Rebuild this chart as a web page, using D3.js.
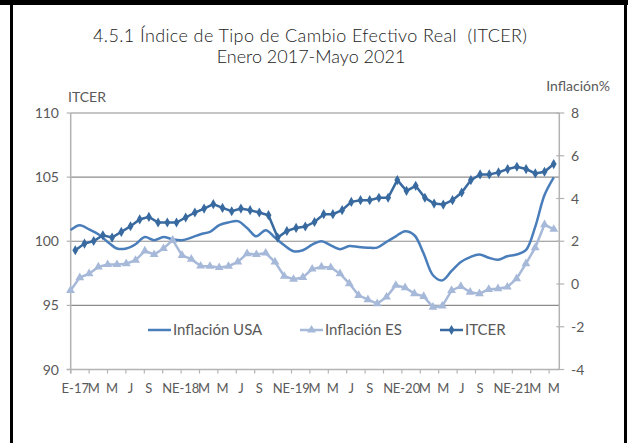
<!DOCTYPE html>
<html>
<meta charset="utf-8">
<style>
  body { margin: 0; background: #fff; }
  text { font-family: Lato, "Open Sans", sans-serif; }
</style>
<body>
<script src="https://cdn.jsdelivr.net/npm/d3@7"></script>
<script>

// months Jan 2017 - May 2021
var categories = [
  "Ene-17","Feb-17","Mar-17","Abr-17","May-17","Jun-17","Jul-17","Ago-17","Sep-17","Oct-17","Nov-17","Dic-17",
  "Ene-18","Feb-18","Mar-18","Abr-18","May-18","Jun-18","Jul-18","Ago-18","Sep-18","Oct-18","Nov-18","Dic-18",
  "Ene-19","Feb-19","Mar-19","Abr-19","May-19","Jun-19","Jul-19","Ago-19","Sep-19","Oct-19","Nov-19","Dic-19",
  "Ene-20","Feb-20","Mar-20","Abr-20","May-20","Jun-20","Jul-20","Ago-20","Sep-20","Oct-20","Nov-20","Dic-20",
  "Ene-21","Feb-21","Mar-21","Abr-21","May-21"
];

// one label every two months
var tickLabels = ["E-17","M","M","J","S","N","E-18","M","M","J","S","N","E-19","M","M","J","S","N",
                  "E-20","M","M","J","S","N","E-21","M","M"];

var itcer = [99.3, 99.82, 100.02, 100.47, 100.29, 100.73, 101.17, 101.7, 101.9, 101.46,
  101.46, 101.46, 101.85, 102.24, 102.55, 102.89, 102.6, 102.34, 102.55, 102.42,
  102.24, 102.03, 100.29, 100.8, 101.04, 101.15, 101.5, 102.11, 102.11, 102.42,
  103.07, 103.2, 103.2, 103.39, 103.39, 104.77, 103.93, 104.32, 103.39, 102.94,
  102.86, 103.2, 103.8, 104.77, 105.21, 105.21, 105.37, 105.63, 105.81, 105.63,
  105.29, 105.42, 106.02];

var inflacionES = [-0.30, 0.30, 0.48, 0.80, 0.91, 0.91, 0.95, 1.11, 1.55, 1.38,
  1.66, 2.05, 1.34, 1.16, 0.84, 0.83, 0.77, 0.83, 1.03, 1.42,
  1.38, 1.45, 1.03, 0.36, 0.22, 0.31, 0.70, 0.80, 0.77, 0.48,
  0.02, -0.53, -0.73, -0.92, -0.61, -0.06, -0.17, -0.45, -0.58, -1.08,
  -1.03, -0.30, -0.11, -0.38, -0.45, -0.25, -0.22, -0.14, 0.25, 0.95,
  1.70, 2.78, 2.56];

var inflacionUSA = [2.52, 2.75, 2.55, 2.33, 1.97, 1.66, 1.66, 1.86, 2.20, 2.05,
  2.20, 2.09, 2.05, 2.17, 2.33, 2.44, 2.75, 2.88, 2.94, 2.62,
  2.23, 2.52, 2.17, 1.81, 1.53, 1.58, 1.84, 2.0, 1.81, 1.63,
  1.78, 1.73, 1.70, 1.70, 1.97, 2.23, 2.47, 2.28, 1.42, 0.41,
  0.17, 0.61, 1.03, 1.26, 1.38, 1.23, 1.14, 1.30, 1.38, 1.58,
  2.67, 4.16, 4.99];

var leftTicks = [90, 95, 100, 105, 110];
var rightTicks = [-4, -2, 0, 2, 4, 6, 8];

var width = 628, height = 443;
var colUSA = "#4a7ebb", colES = "#a7b9d9", colITCER = "#386aa0";
var axisCol = "#b3b3b3", gridCol = "#8c8c8c", textCol = "#595959";

var svg = d3.select("body").append("svg")
    .attr("width", width)
    .attr("height", height);

// frame
svg.append("rect").attr("x", 0).attr("y", 0).attr("width", width).attr("height", 5).attr("fill", "#000");
svg.append("rect").attr("x", 10).attr("y", 0).attr("width", 3).attr("height", height).attr("fill", "#000");
svg.append("rect").attr("x", 624).attr("y", 0).attr("width", 3).attr("height", height).attr("fill", "#000");

// title
svg.append("text").attr("x", 310).attr("y", 42).attr("text-anchor", "middle")
  .attr("font-size", 18).attr("fill", "#222").style("font-weight", 300)
  .style("white-space", "pre")
  .attr("textLength", 434).attr("lengthAdjust", "spacing")
  .text("4.5.1 Índice de Tipo de Cambio Efectivo Real  (ITCER)");
svg.append("text").attr("x", 311).attr("y", 63).attr("text-anchor", "middle")
  .attr("font-size", 18).attr("fill", "#222").style("font-weight", 300)
  .text("Enero 2017-Mayo 2021");

var x0 = 70.7, x1 = 558.3, yTop = 113, yBot = 369.5;

var xBand = d3.scaleBand().domain(categories).range([x0, x1]).padding(0);
var xPoint = d3.scalePoint().domain(categories).range([70.5, 553.8]);
var yL = d3.scaleLinear().domain([90, 110]).range([yBot, yTop]);
var yR = d3.scaleLinear().domain([-4, 8]).range([yBot, yTop]);

// gridlines
svg.append("g").selectAll("line").data(leftTicks.slice(1)).enter().append("line")
  .attr("x1", x0).attr("x2", x1 + 1)
  .attr("y1", function (d) { return yL(d); }).attr("y2", function (d) { return yL(d); })
  .attr("stroke", gridCol).attr("stroke-width", 1.2);

// left axis
var gL = svg.append("g");
gL.append("line").attr("x1", x0).attr("x2", x0).attr("y1", yTop).attr("y2", yBot + 4)
  .attr("stroke", axisCol).attr("stroke-width", 1.5);
gL.selectAll(".t").data(leftTicks).enter().append("line")
  .attr("x1", x0 - 4).attr("x2", x0)
  .attr("y1", function (d) { return yL(d); }).attr("y2", function (d) { return yL(d); })
  .attr("stroke", axisCol).attr("stroke-width", 1.2);
gL.selectAll("text").data(leftTicks).enter().append("text")
  .attr("x", 59).attr("y", function (d) { return yL(d) + 5; })
  .attr("text-anchor", "end").attr("font-size", 14).attr("fill", textCol)
  .text(function (d) { return d; });

// right axis
var gR = svg.append("g");
gR.append("line").attr("x1", x1 + 1).attr("x2", x1 + 1).attr("y1", yTop).attr("y2", yBot)
  .attr("stroke", axisCol).attr("stroke-width", 1.5);
gR.selectAll(".t").data(rightTicks).enter().append("line")
  .attr("x1", x1 - 2).attr("x2", x1 + 6)
  .attr("y1", function (d) { return yR(d); }).attr("y2", function (d) { return yR(d); })
  .attr("stroke", axisCol).attr("stroke-width", 1.2);
gR.selectAll("text").data(rightTicks).enter().append("text")
  .attr("x", 571).attr("y", function (d) { return yR(d) + 5; })
  .attr("font-size", 14).attr("fill", textCol)
  .text(function (d) { return d; });

// bottom axis
var gB = svg.append("g");
gB.append("line").attr("x1", x0 - 4).attr("x2", x1 + 1).attr("y1", yBot).attr("y2", yBot)
  .attr("stroke", axisCol).attr("stroke-width", 1.5);
var evenCats = categories.filter(function (d, i) { return i % 2 == 0; });
gB.selectAll(".t").data(evenCats).enter().append("line")
  .attr("x1", function (d) { return xBand(d); }).attr("x2", function (d) { return xBand(d); })
  .attr("y1", yBot).attr("y2", yBot + 4)
  .attr("stroke", axisCol).attr("stroke-width", 1.2);
gB.selectAll("text").data(evenCats).enter().append("text")
  .attr("x", function (d) { return xBand(d) + xBand.bandwidth() / 2; })
  .attr("y", 393).attr("text-anchor", "middle")
  .attr("font-size", 13).attr("fill", textCol)
  .text(function (d, i) { return tickLabels[i]; });

// axis titles
svg.append("text").attr("x", 68).attr("y", 102).attr("font-size", 14).attr("fill", textCol).text("ITCER");
svg.append("text").attr("x", 610).attr("y", 91).attr("text-anchor", "end")
  .attr("font-size", 14).attr("fill", textCol).text("Inflación%");

// series
var lineUSA = d3.line()
  .x(function (d, i) { return xPoint(categories[i]); })
  .y(function (d) { return yR(d); })
  .curve(d3.curveCatmullRom);
var lineES = d3.line()
  .x(function (d, i) { return xPoint(categories[i]); })
  .y(function (d) { return yR(d); });
var lineIT = d3.line()
  .x(function (d, i) { return xBand(categories[i]) + xBand.bandwidth() / 2; })
  .y(function (d) { return yL(d); });

svg.append("path").datum(inflacionUSA).attr("d", lineUSA)
  .attr("fill", "none").attr("stroke", colUSA).attr("stroke-width", 2.5);

svg.append("path").datum(inflacionES).attr("d", lineES)
  .attr("fill", "none").attr("stroke", colES).attr("stroke-width", 2.5);
var tri = d3.symbol().type(d3.symbolTriangle).size(34);
svg.append("g").selectAll("path").data(inflacionES).enter().append("path")
  .attr("d", tri)
  .attr("transform", function (d, i) { return "translate(" + xPoint(categories[i]) + "," + yR(d) + ")"; })
  .attr("fill", colES);

svg.append("path").datum(itcer).attr("d", lineIT)
  .attr("fill", "none").attr("stroke", colITCER).attr("stroke-width", 2.5);
var dia = d3.symbol().type(d3.symbolDiamond).size(30);
svg.append("g").selectAll("path").data(itcer).enter().append("path")
  .attr("d", dia)
  .attr("transform", function (d, i) { return "translate(" + (xBand(categories[i]) + xBand.bandwidth() / 2) + "," + yL(d) + ")"; })
  .attr("fill", colITCER);

// legend
var legend = [
  { name: "Inflación USA", color: colUSA, x: 148, marker: null },
  { name: "Inflación ES", color: colES, x: 300, marker: tri },
  { name: "ITCER", color: colITCER, x: 440, marker: dia }
];
var lg = svg.append("g").selectAll("g").data(legend).enter().append("g")
  .attr("transform", function (d) { return "translate(" + d.x + ",330)"; });
lg.append("line").attr("x1", 0).attr("x2", 23).attr("y1", 0).attr("y2", 0)
  .attr("stroke", function (d) { return d.color; }).attr("stroke-width", 2.5);
lg.filter(function (d) { return d.marker; }).append("path")
  .attr("d", function (d) { return d.marker(); })
  .attr("transform", "translate(11.5,0)")
  .attr("fill", function (d) { return d.color; });
lg.append("text").attr("x", 25).attr("y", 5).attr("font-size", 15).attr("fill", textCol)
  .text(function (d) { return d.name; });

</script>
</body>
</html>
